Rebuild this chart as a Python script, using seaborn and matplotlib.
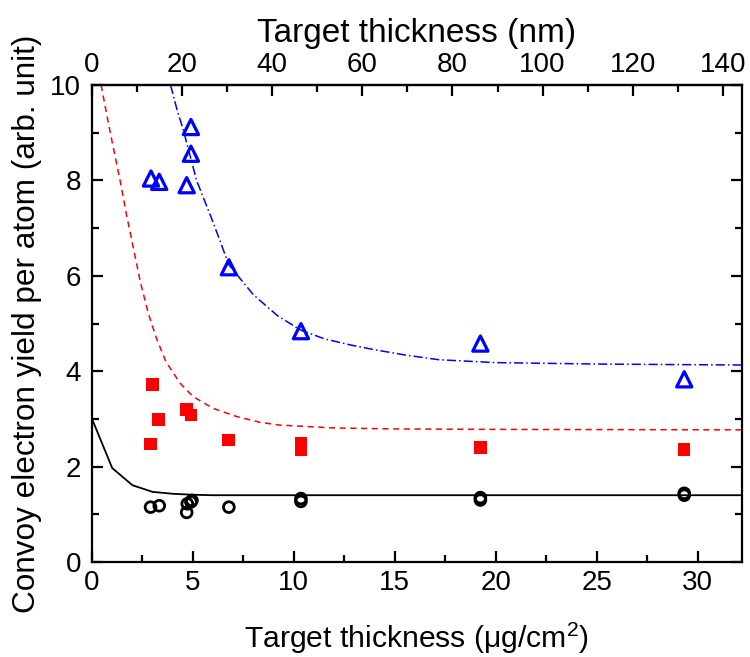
import numpy as np
import pandas as pd
import matplotlib
matplotlib.use("Agg")
import matplotlib.pyplot as plt
from matplotlib.ticker import MultipleLocator, FixedLocator
import seaborn as sns

# measured points (x in ug/cm2)
tri_x = [2.92, 3.33, 4.69, 4.90, 4.90, 6.78, 10.35, 19.24, 29.34]
tri_y = [8.04, 7.97, 7.90, 9.12, 8.56, 6.18, 4.84, 4.58, 3.83]

sq_x = [2.89, 3.00, 3.30, 4.69, 4.90, 6.77, 10.35, 10.35, 19.24, 29.34]
sq_y = [2.47, 3.72, 2.99, 3.20, 3.08, 2.56, 2.50, 2.36, 2.40, 2.36]

circ_x = [2.90, 3.33, 4.69, 4.72, 4.90, 4.95, 6.78, 10.35, 10.35, 19.24, 19.24, 29.34, 29.34]
circ_y = [1.15, 1.18, 1.04, 1.22, 1.26, 1.29, 1.15, 1.33, 1.27, 1.35, 1.30, 1.44, 1.40]

# fitted curves
blue_x = [3.89, 4.20, 4.52, 5.18, 6.00, 6.78, 8.00, 9.20, 10.35, 11.5, 12.8, 14.0, 15.5, 17.2, 20.0, 25.0, 32.2]
blue_y = [10.0, 9.50, 9.06, 8.00, 7.12, 6.23, 5.60, 5.16, 4.86, 4.68, 4.55, 4.45, 4.34, 4.24, 4.18, 4.15, 4.13]

red_x = [0.45, 0.72, 1.00, 1.39, 1.70, 2.04, 2.40, 2.79, 3.20, 3.66, 4.36, 5.00, 6.00, 7.16, 8.30, 9.30, 12.0, 15.0, 20.0, 32.2]
red_y = [10.0, 9.40, 8.80, 8.00, 7.30, 6.60, 5.86, 5.21, 4.68, 4.20, 3.75, 3.47, 3.22, 3.05, 2.93, 2.87, 2.81, 2.79, 2.78, 2.77]

blk_x = [0, 1, 2, 3, 4, 5, 6, 32.2]
blk_y = [3.00, 1.97, 1.61, 1.47, 1.43, 1.41, 1.40, 1.40]

top_ticks = [0, 20, 40, 60, 80, 100, 120, 140]
top_minor = [10, 30, 50, 70, 90, 110, 130]

NM_PER_UG = 4.48  # ug/cm2 -> nm for the top axis

sns.set_style("ticks", {"xtick.direction": "in", "ytick.direction": "in",
                        "axes.edgecolor": "black", "text.color": "black",
                        "axes.labelcolor": "black", "xtick.color": "black",
                        "ytick.color": "black"})
plt.rcParams["font.family"] = ["Liberation Sans", "DejaVu Sans"]
plt.rcParams["mathtext.fontset"] = "custom"
plt.rcParams["mathtext.rm"] = "Liberation Sans"
plt.rcParams["axes.linewidth"] = 1.6

fig = plt.figure(figsize=(7.5, 6.57), dpi=100)
ax = fig.add_axes([0.1227, 0.1446, 0.8666, 0.726])

sns.lineplot(x=blue_x, y=blue_y, ax=ax, color="blue", lw=1.1, linestyle=(0, (6, 2, 1, 2)), sort=False)
sns.lineplot(x=red_x, y=red_y, ax=ax, color="red", lw=1.1, linestyle=(0, (4, 3)), sort=False)
sns.lineplot(x=blk_x, y=blk_y, ax=ax, color="black", lw=1.3, sort=False)

sns.scatterplot(x=tri_x, y=tri_y, ax=ax, marker="^", s=120, facecolor="none",
                edgecolor="blue", linewidth=2.3, zorder=5)
sns.scatterplot(x=sq_x, y=sq_y, ax=ax, marker="s", s=80, color="red",
                edgecolor="none", zorder=5)
sns.scatterplot(x=circ_x, y=circ_y, ax=ax, marker="o", s=60, facecolor="none",
                edgecolor="black", linewidth=2.0, zorder=5)

ax.set_xlim(0, 32.2)
ax.set_ylim(0, 10)
ax.xaxis.set_major_locator(MultipleLocator(5))
ax.xaxis.set_minor_locator(MultipleLocator(2.5))
ax.yaxis.set_major_locator(MultipleLocator(2))
ax.yaxis.set_minor_locator(MultipleLocator(1))
ax.tick_params(which="both", direction="in", right=True, labelsize=20, width=1.6, color="black")
ax.tick_params(which="major", length=8)
ax.tick_params(which="minor", length=5)
ax.tick_params(axis="x", top=False, pad=6)
ax.tick_params(axis="y", pad=8)

ax.set_xlabel("Target thickness ($\\mathrm{\\mu}$g/cm$^2$)", fontsize=21.7, labelpad=17)
ax.set_ylabel("Convoy electron yield per atom (arb. unit)", fontsize=22.7, labelpad=6)

top = ax.secondary_xaxis("top", functions=(lambda x: x * NM_PER_UG, lambda x: x / NM_PER_UG))
top.xaxis.set_major_locator(FixedLocator(top_ticks))
top.xaxis.set_minor_locator(FixedLocator(top_minor))
top.tick_params(which="both", direction="in", labelsize=20, width=1.6, pad=5, color="black")
top.tick_params(which="major", length=8)
top.tick_params(which="minor", length=5)
top.set_xlabel("Target thickness (nm)", fontsize=24, labelpad=7)

fig.savefig("out.png", dpi=100)
